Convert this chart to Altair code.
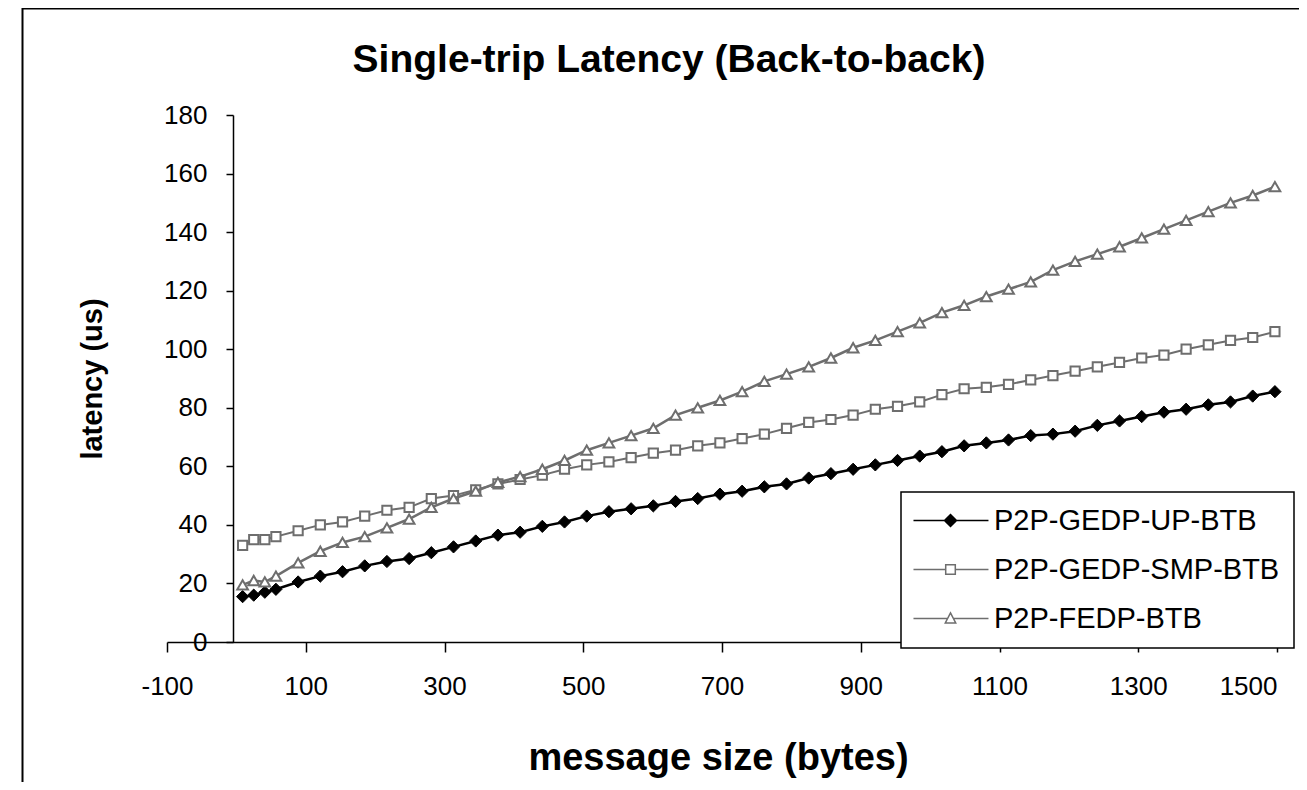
import altair as alt
import pandas as pd

# ---- data ----
msg_size = [9, 25, 41, 57, 89, 121, 153, 185, 217, 249, 281, 313, 345, 377, 409, 441,
            473, 505, 537, 569, 601, 633, 665, 697, 729, 761, 793, 825, 857, 889, 921,
            953, 985, 1017, 1049, 1081, 1113, 1145, 1177, 1209, 1241, 1273, 1305, 1337,
            1369, 1401, 1433, 1465, 1497]
up_btb = [15.5, 16, 17, 18, 20.5, 22.5, 24, 26, 27.5, 28.5, 30.5, 32.5, 34.5, 36.5, 37.5,
          39.5, 41, 43, 44.5, 45.5, 46.5, 48, 49, 50.5, 51.5, 53, 54, 56, 57.5, 59, 60.5,
          62, 63.5, 65, 67, 68, 69, 70.5, 71, 72, 74, 75.5, 77, 78.5, 79.5, 81, 82, 84, 85.5]
smp_btb = [33, 35, 35, 36, 38, 40, 41, 43, 45, 46, 49, 50, 52, 54, 55.5, 57, 59, 60.5,
           61.5, 63, 64.5, 65.5, 67, 68, 69.5, 71, 73, 75, 76, 77.5, 79.5, 80.5, 82, 84.5,
           86.5, 87, 88, 89.5, 91, 92.5, 94, 95.5, 97, 98, 100, 101.5, 103, 104, 106]
fedp_btb = [19.5, 21, 20.5, 22.5, 27, 31, 34, 36, 39, 42, 46, 49, 51.5, 54.5, 56.5, 59,
            62, 65.5, 68, 70.5, 73, 77.5, 80, 82.5, 85.5, 89, 91.5, 94, 97, 100.5, 103,
            106, 109, 112.5, 115, 118, 120.5, 123, 127, 130, 132.5, 135, 138, 141, 144,
            147, 150, 152.5, 155.5]
series_names = ["P2P-GEDP-UP-BTB", "P2P-GEDP-SMP-BTB", "P2P-FEDP-BTB"]
x_ticks = [-100, 100, 300, 500, 700, 900, 1100, 1300, 1500]
y_ticks = [0, 20, 40, 60, 80, 100, 120, 140, 160, 180]

rows = []
for name, vals in zip(series_names, [up_btb, smp_btb, fedp_btb]):
    for xv, yv in zip(msg_size, vals):
        rows.append({"size": xv, "latency": yv, "series": name})
df = pd.DataFrame(rows)

W, H = 1110, 527
FONT = "Liberation Sans"
GREY = "#6e6e6e"

x_enc = alt.X("size:Q",
              scale=alt.Scale(domain=[-100, 1500], nice=False, zero=False),
              axis=alt.Axis(values=x_ticks, grid=False, domainColor="black", domainWidth=1.5,
                            tickColor="black", tickWidth=1.5, tickSize=10,
                            labelExpr="'' + datum.value", labelFlush=False,
                            labelOverlap=False,
                            labelAlign=alt.condition("datum.value == 1500",
                                                     alt.value("right"), alt.value("center")),
                            labelFont=FONT, labelFontSize=26, labelColor="black",
                            labelPadding=21,
                            title="message size (bytes)", titleFont=FONT, titleFontSize=38,
                            titleFontWeight="bold", titleColor="black",
                            titleX=W / 2 - 4, titleY=116, titleBaseline="middle",
                            titleAlign="center"))
y_enc = alt.Y("latency:Q",
              scale=alt.Scale(domain=[0, 180], nice=False),
              axis=alt.Axis(values=y_ticks, grid=False, offset=-66, domainColor="black",
                            domainWidth=1.5, tickColor="black", tickWidth=1.5, tickSize=7,
                            labelExpr="'' + datum.value", labelFlush=False,
                            labelFont=FONT, labelFontSize=26, labelColor="black",
                            labelPadding=19,
                            title="latency (us)", titleFont=FONT, titleFontSize=29,
                            titleFontWeight="bold", titleColor="black", titleAngle=270,
                            titleX=-141, titleY=H / 2, titleBaseline="middle",
                            titleAlign="center"))

base = alt.Chart(df)


def series_layers(name, line_color, line_width, shape, fill, stroke, size, sw):
    sub = base.transform_filter(alt.datum.series == name)
    line = sub.mark_line(color=line_color, strokeWidth=line_width).encode(
        x=x_enc, y=y_enc, order="size:Q")
    pts = sub.mark_point(shape=shape, filled=True, fill=fill, stroke=stroke,
                         strokeWidth=sw, size=size, opacity=1).encode(x=x_enc, y=y_enc)
    return [line, pts]


layers = []
layers += series_layers(series_names[0], "black", 2.5, "diamond", "black", "black", 150, 1)
layers += series_layers(series_names[1], GREY, 2, "square", "white", GREY, 85, 2)
layers += series_layers(series_names[2], GREY, 2.5, "triangle-up", "white", GREY, 115, 2)

# legend carrier (no marks drawn, only the legend)
leg_paths = [
    "M-2.67,0H9.83M2.5,0L3.5,-1L4.5,0L3.5,1Z",
    "M-2.67,0H2.7M4.3,0H9.83M2.7,-0.8H4.3V0.8H2.7Z",
    "M-2.67,0H2.97M4.03,0H9.83M3.5,-0.95L4.37,0.75H2.63Z",
]
legend = alt.Legend(orient="none", legendX=734, legendY=377, title=None,
                    fillColor="white", strokeColor="black", padding=14,
                    labelFont=FONT, labelFontSize=29, labelColor="black", labelLimit=500,
                    labelOffset=50, rowPadding=19, symbolStrokeWidth=1.5, symbolSize=144)
carrier = base.transform_filter("false").mark_point(
    filled=True, opacity=1, size=144).encode(
    x=x_enc, y=y_enc,
    shape=alt.Shape("series:N", scale=alt.Scale(domain=series_names, range=leg_paths),
                    legend=legend),
    fill=alt.Fill("series:N", scale=alt.Scale(domain=series_names,
                                              range=["black", "white", "white"]),
                  legend=legend),
    stroke=alt.Stroke("series:N", scale=alt.Scale(domain=series_names,
                                                  range=["black", GREY, GREY]),
                      legend=legend),
)

frame = alt.Chart(pd.DataFrame({"a": [0]})).mark_rect(
    fill="transparent", stroke="black", strokeWidth=2).encode(
    x=alt.value(-144.5), y=alt.value(-106.5), x2=alt.value(W + 200), y2=alt.value(H + 300))

chart = alt.layer(frame, *layers, carrier).properties(
    width=W, height=H,
    autosize=alt.AutoSizeParams(type="none"),
    padding={"left": 159, "top": 107, "right": 22, "bottom": 140},
    title=alt.TitleParams("Single-trip Latency (Back-to-back)", font=FONT, fontSize=39,
                          fontWeight="bold", color="black", anchor="middle", dx=-53,
                          frame="group", offset=-72),
).configure_view(stroke=None).configure_legend(strokeWidth=1.5)

chart.save("out.html", embed_options={"renderer": "svg", "actions": False})
